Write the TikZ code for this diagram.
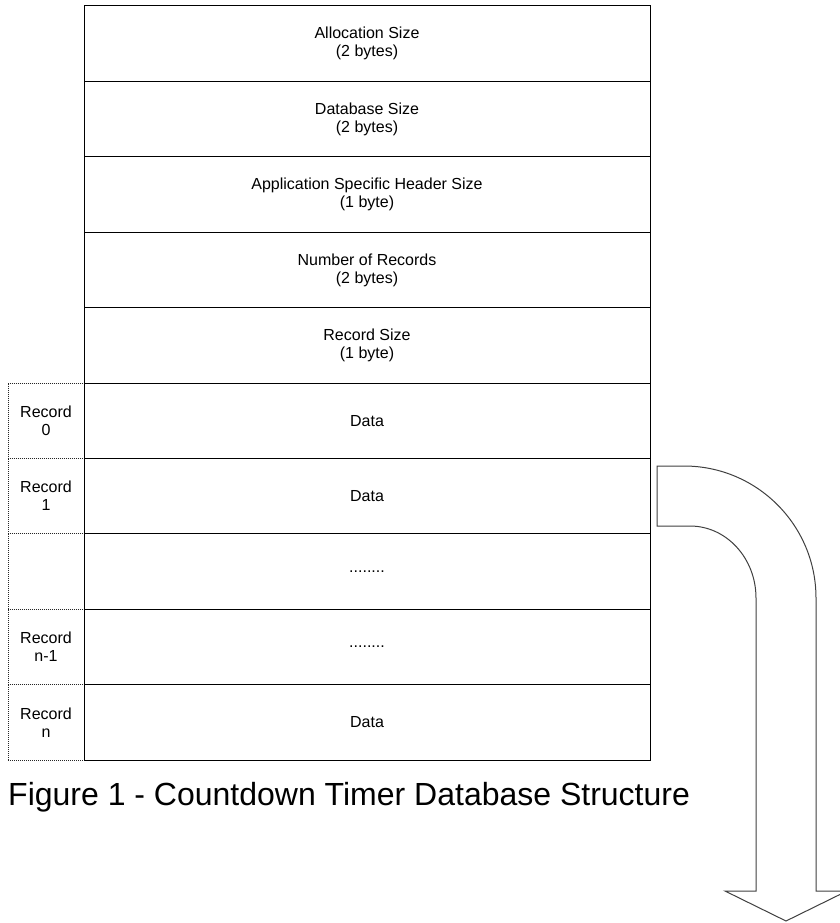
\documentclass[tikz,border=0pt]{standalone}
\usepackage{fontspec}
\setmainfont{Liberation Sans}
\begin{document}
\begin{tikzpicture}[x=1pt,y=-1pt,
  cell/.style={draw=black, line width=1pt, minimum width=566pt, minimum height=75.4pt, inner sep=0pt, align=center, font=\fontsize{16}{18}\selectfont},
  reclab/.style={draw=black!85, dash pattern=on 1pt off 1pt, line width=0.9pt, minimum width=76pt, minimum height=75.4pt, inner sep=0pt, align=center, font=\fontsize{16}{18}\selectfont},
  uarrow/.style={draw=black!75, line width=1pt, fill=white},
  captext/.style={font=\fontsize{32}{36}\selectfont, inner sep=0pt, anchor=base west}]
\path[use as bounding box] (0,0) rectangle (840,923);
\clip (0,0) rectangle (840,923);
% record labels (dotted)
\node[reclab] (r0) at (46,420.7) {Record\\0};
\node[reclab] (r1) at (46,496.1) {Record\\1};
\node[reclab] (r2) at (46,571.5) {};
\node[reclab] (r3) at (46,646.9) {Record\\n-1};
\node[reclab] (r4) at (46,722.3) {Record\\n};
% main structure
\node[cell] (alloc) at (367,43.7) {Allocation Size\\(2 bytes)};
\node[cell] (dbsize) at (367,119.1) {Database Size\\(2 bytes)};
\node[cell] (hdr) at (367,194.5) {Application Specific Header Size\\(1 byte)};
\node[cell] (nrec) at (367,269.9) {Number of Records\\(2 bytes)};
\node[cell] (rsize) at (367,345.3) {Record Size\\(1 byte)};
\node[cell] (d0) at (367,420.7) {Data};
\node[cell] (d1) at (367,496.1) {Data};
\node[cell] (d2) at (367,571.5) {........};
\node[cell] (d3) at (367,646.9) {........};
\node[cell] (d4) at (367,722.3) {Data};
% U-turn arrow
\draw[uarrow] (657,466) -- (684,466)
  arc[start angle=270, end angle=360, x radius=132, y radius=132]
  -- (816,891) -- (847,891) -- (786,921) -- (725,891) -- (756,891) -- (756,598)
  arc[start angle=0, end angle=-90, x radius=66, y radius=72]
  -- (657,526) -- cycle;
% caption
\node[captext] (cap) at (8,805) {Figure 1 - Countdown Timer Database Structure};
\end{tikzpicture}
\end{document}
